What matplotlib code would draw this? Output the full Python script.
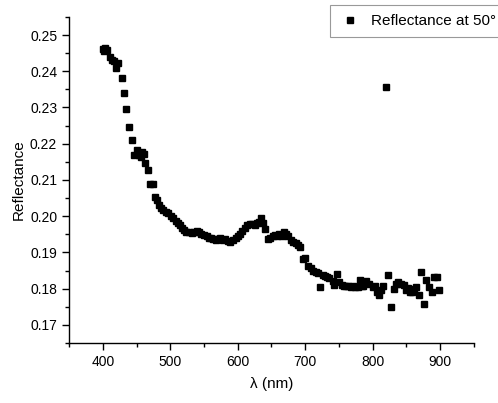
import matplotlib
matplotlib.use('Agg')
import matplotlib.pyplot as plt
from matplotlib.ticker import MultipleLocator

plt.rcParams['font.family'] = ['Liberation Sans', 'DejaVu Sans']

# wavelength (nm) and reflectance
wavelength = [400, 402, 404, 407, 411, 414, 416, 419, 423, 428,
              431, 435, 439, 444, 447, 450, 453, 456, 458, 461,
              463, 467, 470, 474, 478, 481, 484, 487, 490, 494,
              497, 501, 504, 508, 512, 515, 518, 521, 524, 528,
              532, 535, 539, 542, 546, 550, 554, 557, 561, 564,
              568, 571, 574, 578, 581, 585, 589, 593, 597, 600,
              604, 607, 611, 614, 618, 621, 625, 628, 632, 635,
              638, 641, 645, 648, 652, 655, 658, 661, 665, 668,
              672, 675, 679, 682, 686, 690, 693, 696, 700, 704,
              708, 712, 716, 719, 722, 726, 729, 732, 736, 741,
              742, 747, 750, 754, 758, 761, 764, 768, 771, 774,
              778, 781, 784, 786, 790, 795, 800, 803, 806, 809,
              812, 815, 820, 823, 827, 831, 834, 838, 842, 846,
              849, 852, 855, 858, 861, 864, 868, 871, 876, 879,
              883, 888, 891, 896, 899]
reflectance = [0.2461, 0.2455, 0.2463, 0.2458, 0.2438, 0.2432, 0.2429, 0.2408, 0.2422, 0.2381,
               0.2339, 0.2296, 0.2245, 0.2210, 0.2168, 0.2183, 0.2170, 0.2162, 0.2178, 0.2172,
               0.2146, 0.2128, 0.2090, 0.2089, 0.2054, 0.2045, 0.2031, 0.2022, 0.2017, 0.2012,
               0.2008, 0.2000, 0.1994, 0.1988, 0.1981, 0.1975, 0.1967, 0.1962, 0.1957, 0.1955,
               0.1953, 0.1957, 0.1960, 0.1955, 0.1951, 0.1947, 0.1944, 0.1941, 0.1939, 0.1936,
               0.1934, 0.1936, 0.1939, 0.1935, 0.1937, 0.1932, 0.1928, 0.1935, 0.1940, 0.1944,
               0.1950, 0.1958, 0.1966, 0.1975, 0.1978, 0.1979, 0.1976, 0.1981, 0.1985, 0.1994,
               0.1981, 0.1965, 0.1938, 0.1940, 0.1944, 0.1948, 0.1946, 0.1950, 0.1946, 0.1957,
               0.1950, 0.1946, 0.1935, 0.1930, 0.1926, 0.1921, 0.1914, 0.1881, 0.1884, 0.1862,
               0.1856, 0.1850, 0.1847, 0.1842, 0.1805, 0.1838, 0.1835, 0.1832, 0.1830, 0.1820,
               0.1810, 0.1841, 0.1818, 0.1810, 0.1808, 0.1806, 0.1806, 0.1804, 0.1808, 0.1804,
               0.1805, 0.1824, 0.1806, 0.1808, 0.1820, 0.1812, 0.1804, 0.1808, 0.1792, 0.1783,
               0.1796, 0.1806, 0.2356, 0.1838, 0.1749, 0.1799, 0.1812, 0.1817, 0.1812, 0.1810,
               0.1797, 0.1803, 0.1792, 0.1792, 0.1798, 0.1804, 0.1781, 0.1847, 0.1758, 0.1824,
               0.1804, 0.1792, 0.1833, 0.1833, 0.1795]

fig = plt.figure(figsize=(4.98, 4.03), dpi=100)
ax = fig.add_axes([0.1386, 0.149, 0.813, 0.809])

ax.plot(wavelength, reflectance, linestyle='none', marker='s', markersize=5,
        color='black', label='Reflectance at 50°')

ax.set_xlim(350, 950)
ax.set_ylim(0.165, 0.255)
ax.xaxis.set_major_locator(MultipleLocator(100))
ax.xaxis.set_minor_locator(MultipleLocator(50))
ax.yaxis.set_major_locator(MultipleLocator(0.01))
ax.yaxis.set_minor_locator(MultipleLocator(0.005))
ax.yaxis.set_major_formatter(plt.FormatStrFormatter('%.2f'))

ax.spines['top'].set_visible(False)
ax.spines['right'].set_visible(False)
for s in ['left', 'bottom']:
    ax.spines[s].set_linewidth(1.0)
ax.tick_params(which='major', direction='out', length=5, width=1, labelsize=10)
ax.tick_params(which='minor', direction='out', length=3, width=1)

ax.set_xlabel('λ (nm)', fontsize=11, labelpad=6)
ax.set_ylabel('Reflectance', fontsize=11, labelpad=3)

leg = fig.legend(loc='upper left', bbox_to_anchor=(330 / 498, 1 - 5 / 403), fontsize=11,
                 frameon=True, fancybox=False, handletextpad=0.7, borderpad=0.6,
                 handlelength=1.4, borderaxespad=0, markerscale=0.9)
leg.get_frame().set_edgecolor('#808080')
leg.get_frame().set_linewidth(0.8)

fig.savefig('out.png', dpi=100)
